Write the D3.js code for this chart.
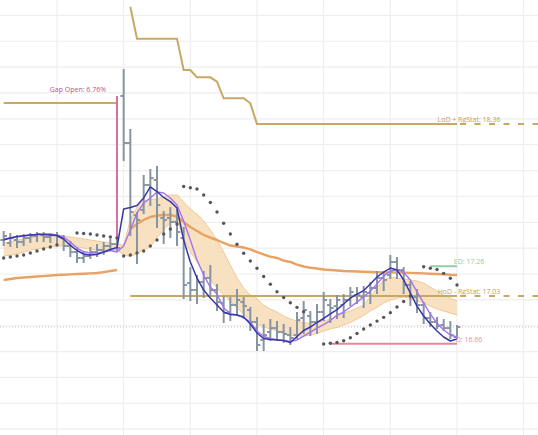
<!DOCTYPE html>
<html><head><meta charset="utf-8">
<script src="https://cdn.jsdelivr.net/npm/d3@7"></script>
<style>html,body{margin:0;padding:0;background:#fff;overflow:hidden}</style>
</head><body>
<svg id="c" width="538" height="435"></svg>
<script>
// ---- data (bar index = time slot; 0..17 prior session, 18..68 current session)
const barIdx = d3.range(69);
const opens = [17.463,17.440,17.463,17.448,17.478,17.494,17.502,17.486,17.502,17.478,17.417,17.370,17.324,17.339,17.370,17.386,17.417,17.432,
 18.577,18.213,17.656,17.695,17.888,17.927,17.633,17.633,17.602,17.478,17.130,17.076,17.138,17.169,17.076,16.976,16.906,16.960,16.983,16.922,16.829,16.690,16.751,16.782,16.751,16.728,16.728,16.860,16.875,16.829,16.906,16.960,16.952,16.960,16.999,17.037,17.022,17.053,17.092,17.169,17.192,17.293,17.231,17.115,17.022,16.960,16.860,16.829,16.806,16.782,16.713];
const highs = [17.525,17.509,17.494,17.502,17.509,17.517,17.517,17.509,17.517,17.494,17.448,17.401,17.370,17.401,17.424,17.440,17.463,17.463,
 18.778,18.314,17.672,17.958,18.004,18.027,17.679,17.710,17.695,17.556,17.246,17.184,17.215,17.262,17.115,17.022,17.014,17.076,17.014,16.937,16.860,16.806,16.844,16.829,16.806,16.782,16.898,16.983,16.906,16.960,17.053,16.999,17.030,17.037,17.092,17.092,17.099,17.130,17.215,17.215,17.339,17.324,17.246,17.138,17.076,16.976,16.898,16.860,16.844,16.829,16.798];
const lows = [17.424,17.417,17.409,17.424,17.448,17.455,17.455,17.448,17.440,17.386,17.339,17.293,17.293,17.324,17.339,17.355,17.386,17.386,
 18.082,17.502,17.285,17.672,17.733,17.563,17.440,17.486,17.424,17.014,16.999,16.976,17.022,17.037,16.922,16.829,16.844,16.883,16.860,16.767,16.612,16.612,16.690,16.690,16.674,16.659,16.705,16.744,16.728,16.744,16.844,16.829,16.860,16.867,16.960,16.976,16.945,16.976,17.053,17.076,17.169,17.169,17.053,16.960,16.906,16.821,16.798,16.782,16.767,16.705,16.705];
const closes = [17.494,17.478,17.448,17.478,17.494,17.509,17.486,17.502,17.486,17.417,17.370,17.324,17.339,17.370,17.386,17.417,17.432,17.401,
 18.213,17.679,17.618,17.888,17.942,17.733,17.618,17.602,17.525,17.115,17.076,17.138,17.169,17.076,16.983,16.898,16.960,16.999,16.952,16.829,16.651,16.728,16.782,16.751,16.736,16.705,16.844,16.922,16.829,16.906,16.999,16.937,16.999,16.999,17.061,17.037,17.061,17.092,17.169,17.154,17.293,17.231,17.115,17.022,16.960,16.860,16.829,16.798,16.782,16.728,16.790];
const fastMA = [17.463,17.478,17.490,17.496,17.502,17.506,17.506,17.502,17.498,17.471,17.421,17.382,17.355,17.347,17.351,17.370,17.390,17.405,
 17.703,17.714,17.730,17.788,17.873,17.838,17.792,17.760,17.710,17.463,17.293,17.169,17.076,17.014,16.960,16.906,16.887,16.883,16.867,16.813,16.744,16.701,16.693,16.690,16.686,16.670,16.717,16.763,16.790,16.825,16.856,16.891,16.925,16.968,17.014,17.045,17.072,17.123,17.177,17.215,17.246,17.231,17.154,17.053,16.952,16.875,16.813,16.759,16.713,16.682,16.697];
const slowMA = [17.471,17.478,17.486,17.494,17.502,17.506,17.509,17.509,17.502,17.486,17.448,17.401,17.374,17.362,17.362,17.370,17.382,17.370,
 17.417,17.540,17.672,17.749,17.788,17.834,17.826,17.788,17.733,17.610,17.463,17.308,17.192,17.099,17.045,16.937,16.894,16.883,16.863,16.829,16.759,16.717,16.701,16.693,16.686,16.678,16.690,16.720,16.751,16.782,16.809,16.840,16.883,16.906,16.945,16.983,17.022,17.068,17.123,17.184,17.223,17.235,17.212,17.154,17.061,16.976,16.890,16.821,16.767,16.728,16.713];
const bandUpper = [17.440,17.448,17.463,17.471,17.478,17.486,17.494,17.494,17.494,17.494,17.486,17.478,17.471,17.463,17.455,17.448,17.440,17.432,
 17.424,17.618,17.718,17.764,17.776,17.780,17.799,17.811,17.811,17.757,17.703,17.664,17.610,17.540,17.463,17.370,17.269,17.169,17.092,17.037,17.007,16.960,16.929,16.906,16.875,16.852,16.836,16.821,16.821,16.829,16.836,16.852,16.867,16.898,16.914,16.937,16.960,17.022,17.092,17.154,17.177,17.169,17.161,17.154,17.146,17.130,17.099,17.068,17.037,17.014,16.991];
const bandLower = [17.339,17.347,17.355,17.370,17.386,17.393,17.401,17.409,17.417,17.417,17.417,17.409,17.401,17.393,17.386,17.386,17.386,17.386,
 17.347,17.335,17.358,17.386,17.413,17.478,17.544,17.594,17.618,17.478,17.370,17.293,17.215,17.154,17.092,17.037,16.991,16.937,16.891,16.844,16.813,16.790,16.775,16.759,16.744,16.728,16.720,16.720,16.728,16.740,16.759,16.775,16.786,16.806,16.825,16.852,16.879,16.914,16.941,16.976,16.999,17.014,17.022,17.010,16.995,16.976,16.952,16.929,16.914,16.898,16.883];
const baseLine = [17.154,17.161,17.169,17.173,17.177,17.181,17.184,17.188,17.192,17.194,17.197,17.200,17.202,17.205,17.208,17.215,17.223,17.231,
 null,17.548,17.587,17.618,17.641,17.652,17.656,17.656,17.645,17.602,17.563,17.532,17.502,17.482,17.463,17.440,17.420,17.413,17.405,17.390,17.370,17.351,17.335,17.324,17.304,17.293,17.273,17.258,17.248,17.243,17.235,17.231,17.227,17.223,17.221,17.219,17.217,17.215,17.214,17.213,17.213,17.212,17.211,17.209,17.207,17.205,17.202,17.200,17.198,17.194,17.192];
const sar = [17.324,17.332,17.339,17.347,17.362,17.378,17.393,17.409,17.424,null,null,17.517,17.513,17.509,17.502,17.494,17.486,17.478,
 17.339,17.347,17.362,17.378,17.417,17.463,17.509,17.548,17.587,17.877,17.867,17.857,17.811,17.753,17.679,17.592,17.509,17.430,17.360,17.301,17.244,17.181,17.121,17.063,17.018,16.978,16.942,16.908,null,null,16.659,16.664,16.670,16.684,16.707,16.740,16.775,16.806,16.836,16.865,16.901,16.945,16.987,17.030,null,17.256,17.244,17.235,17.205,17.167,17.115];
const lodRgStat = [18.522,18.522,18.522,18.522,18.522,18.522,18.522,18.522,18.522,18.522,18.522,18.522,18.522,18.522,18.522,18.522,18.522,18.522,
 null,19.267,19.020,19.020,19.020,19.020,19.020,19.020,19.020,18.778,18.778,18.721,18.721,18.721,18.687,18.559,18.559,18.559,18.559,18.520,
 18.36,18.36,18.36,18.36,18.36,18.36,18.36,18.36,18.36,18.36,18.36,18.36,18.36,18.36,18.36,18.36,18.36,18.36,18.36,18.36,18.36,18.36,18.36,18.36,18.36,18.36,18.36,18.36,18.36,18.36,18.36];
const gridPrices = [16.0,16.2,16.4,16.6,16.8,17.0,17.2,17.4,17.6,17.8,18.0,18.2,18.4,18.6,18.8,19.0,19.2];
const gridBars = [8,18,28,38,48,58,68,78];
const levelLabels = ["LoD + RgStat: 18.36","HoD - RgStat: 17.03","ED: 17.26","D: 16.66"];
const levelValues = [18.36, 17.03, 17.26, 16.66];
const levelFrom = [38, 19, 64, 49];
const levelTo = [68, 68, 68, 68];
const gapLabel = "Gap Open: 6.76%";
const gapBar = 17;

// ---- drawing
const W = 538, H = 435;
const svg = d3.select("#c");
const x = d3.scaleLinear().domain([-0.55, 80.15]).range([0, W]);
const y = d3.scaleLinear().domain([15.955, 19.319]).range([H, 0]);
const FONT = "'Open Sans', 'Liberation Sans', sans-serif";

const grid = svg.append("g");
grid.selectAll(".gh").data(gridPrices).join("line")
  .attr("x1", 0).attr("x2", W).attr("y1", d => y(d)).attr("y2", d => y(d))
  .attr("stroke", "#eeeeee").attr("stroke-width", 1.2);
grid.selectAll(".gv").data(gridBars).join("line")
  .attr("y1", 0).attr("y2", H).attr("x1", d => x(d)).attr("x2", d => x(d))
  .attr("stroke", "#eeeeee").attr("stroke-width", 1.2);

// last price dotted
const lastClose = closes[closes.length - 1];
svg.append("line").attr("x1", 0).attr("x2", W).attr("y1", y(lastClose)).attr("y2", y(lastClose))
  .attr("stroke", "#c4c4c4").attr("stroke-width", 1).attr("stroke-dasharray", "1,2");

// band
const area = d3.area().x(i => x(i)).y0(i => y(bandLower[i])).y1(i => y(bandUpper[i]));
svg.append("path").datum(barIdx).attr("d", area).attr("fill", "#f7dcb6").attr("fill-opacity", 0.85);
const lineOf = arr => d3.line().defined(i => arr[i] != null).x(i => x(i)).y(i => y(arr[i]));
svg.append("path").datum(barIdx).attr("d", lineOf(bandUpper)).attr("fill", "none").attr("stroke", "#efc48e").attr("stroke-width", 0.9);
svg.append("path").datum(barIdx).attr("d", lineOf(bandLower)).attr("fill", "none").attr("stroke", "#efc48e").attr("stroke-width", 0.9);

// orange base line
svg.append("path").datum(barIdx).attr("d", lineOf(baseLine)).attr("fill", "none")
  .attr("stroke", "#e9a262").attr("stroke-width", 2.4).attr("stroke-linejoin", "round");

// gold stepped line
const GOLD = "#c9a764";
svg.append("path").datum(barIdx).attr("d", lineOf(lodRgStat)).attr("fill", "none")
  .attr("stroke", GOLD).attr("stroke-width", 2);

// level lines
const levelColors = [GOLD, GOLD, "#94cca8", "#e5879a"];
const levelText = ["#c4a055", "#c4a055", "#93c9a6", "#e58fa3"];
levelValues.forEach((v, k) => {
  if (k !== 0) {
    svg.append("line").attr("x1", x(levelFrom[k])).attr("x2", x(levelTo[k]))
      .attr("y1", y(v)).attr("y2", y(v)).attr("stroke", levelColors[k]).attr("stroke-width", 2);
  }
  if (k < 2) {
    svg.append("line").attr("x1", x(levelTo[k]) + 3).attr("x2", W)
      .attr("y1", y(v)).attr("y2", y(v)).attr("stroke", levelColors[k])
      .attr("stroke-width", 2).attr("stroke-dasharray", "6,8.5");
  }
});

// gap line
svg.append("line").attr("x1", x(gapBar)).attr("x2", x(gapBar))
  .attr("y1", y(closes[gapBar])).attr("y2", y(opens[gapBar + 1]))
  .attr("stroke", "#d472a6").attr("stroke-width", 2);

// OHLC bars
const BAR = "#8794a1";
const bars = svg.append("g").attr("stroke", BAR).attr("stroke-width", 2);
barIdx.forEach(i => {
  const cx = x(i);
  bars.append("line").attr("x1", cx).attr("x2", cx).attr("y1", y(highs[i]) - 1).attr("y2", y(lows[i]) + 1);
  bars.append("line").attr("x1", cx - 3.3).attr("x2", cx).attr("y1", y(opens[i])).attr("y2", y(opens[i]));
  bars.append("line").attr("x1", cx).attr("x2", cx + 3.3).attr("y1", y(closes[i])).attr("y2", y(closes[i]));
});

// SAR dots
svg.append("g").selectAll("circle").data(barIdx.filter(i => sar[i] != null)).join("circle")
  .attr("cx", i => x(i)).attr("cy", i => y(sar[i])).attr("r", 1.7).attr("fill", "#575757");

// moving averages
svg.append("path").datum(barIdx).attr("d", lineOf(slowMA)).attr("fill", "none")
  .attr("stroke", "#a374ee").attr("stroke-width", 1.4).attr("stroke-linejoin", "round");
svg.append("path").datum(barIdx).attr("d", lineOf(fastMA)).attr("fill", "none")
  .attr("stroke", "#3737a8").attr("stroke-width", 1.5).attr("stroke-linejoin", "round");

// labels
levelLabels.forEach((t, k) => {
  svg.append("text").attr("x", x(levelTo[k]) + 12).attr("y", y(levelValues[k]) - 2)
    .attr("text-anchor", "middle").attr("font-family", FONT).attr("font-size", 7)
    .attr("fill", levelText[k]).text(t);
});
svg.append("text").attr("x", x(gapBar) - 11).attr("y", y(opens[gapBar + 1]) - 4)
  .attr("text-anchor", "end").attr("font-family", FONT).attr("font-size", 7)
  .attr("fill", "#c2528c").text(gapLabel);
</script>
</body></html>
